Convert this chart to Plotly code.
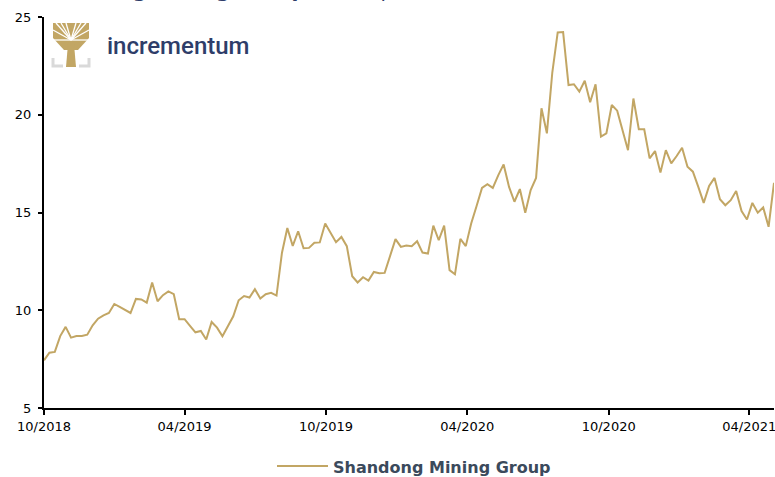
import pandas as pd
import plotly.graph_objects as go

# ---------------- data ----------------
start_date = "2018-10-01"
series_name = "Shandong Mining Group"
prices = [
    7.44, 7.83, 7.87, 8.68, 9.15, 8.60, 8.68, 8.68, 8.75, 9.23,
    9.57, 9.74, 9.86, 10.32, 10.17, 10.00, 9.86, 10.58, 10.55, 10.39,
    11.42, 10.46, 10.77, 10.96, 10.82, 9.54, 9.54, 9.20, 8.87, 8.94,
    8.50, 9.40, 9.11, 8.67, 9.18, 9.69, 10.51, 10.73, 10.65, 11.08,
    10.60, 10.82, 10.89, 10.75, 12.93, 14.21, 13.29, 14.04, 13.17, 13.19,
    13.45, 13.47, 14.44, 13.98, 13.48, 13.75, 13.28, 11.74, 11.42, 11.69,
    11.52, 11.96, 11.89, 11.91, 12.82, 13.64, 13.24, 13.31, 13.28, 13.53,
    12.95, 12.90, 14.33, 13.58, 14.33, 12.05, 11.84, 13.65, 13.28, 14.44,
    15.33, 16.26, 16.45, 16.26, 16.90, 17.46, 16.31, 15.55, 16.20, 14.99,
    16.15, 16.77, 20.33, 19.05, 22.16, 24.21, 24.23, 21.52, 21.56, 21.18,
    21.74, 20.64, 21.56, 18.88, 19.05, 20.50, 20.21, 19.17, 18.19, 20.83,
    19.26, 19.26, 17.77, 18.14, 17.04, 18.19, 17.51, 17.89, 18.31, 17.34,
    17.09, 16.31, 15.49, 16.36, 16.77, 15.68, 15.37, 15.63, 16.10, 15.07,
    14.64, 15.49, 14.99, 15.26, 14.27, 16.52,
]
dates = pd.date_range(start_date, periods=len(prices), freq="7D")

x_tick_vals = ["2018-10-01", "2019-04-01", "2019-10-01", "2020-04-01", "2020-10-01", "2021-04-01"]
x_tick_text = ["10/2018", "04/2019", "10/2019", "04/2020", "10/2020", "04/2021"]
y_tick_vals = [5, 10, 15, 20, 25]

# ---------------- style ----------------
GOLD = "#C2A664"
NAVY = "#2E3D69"
SLATE = "#3B4A5C"
GREY = "#D9D9D9"
W, H = 775, 477
ML, MR, MT, MB = 44, 1, 17, 69
PW, PH = W - ML - MR, H - MT - MB


def px(x):
    return (x - ML) / PW


def py(y):
    return (H - MB - y) / PH


fig = go.Figure()
fig.add_trace(go.Scatter(
    x=dates, y=prices, mode="lines", name=series_name,
    line=dict(color=GOLD, width=2), showlegend=False, cliponaxis=False,
))

shapes = []
# logo: tree crown (block) with white gaps suggesting branches
crown = [(53, 23), (89, 23), (89, 38), (78, 50), (64, 50), (53, 38)]
path = "M " + " L ".join(f"{px(a):.5f},{py(b):.5f}" for a, b in crown) + " Z"
shapes.append(dict(type="path", xref="paper", yref="paper", path=path,
                   fillcolor=GOLD, line=dict(width=0)))
gap_base = (71, 40)
gap_tips = [(56, 23), (61, 23), (66, 23), (76, 23), (81, 23), (86, 23), (53, 30), (89, 30), (53, 40), (89, 40)]
for tx, ty in gap_tips:
    shapes.append(dict(type="line", xref="paper", yref="paper",
                       x0=px(gap_base[0]), y0=py(gap_base[1]), x1=px(tx), y1=py(ty),
                       line=dict(color="white", width=1.3)))
# trunk
trunk = [(66, 67), (76, 67), (74, 44), (68, 44)]
path = "M " + " L ".join(f"{px(a):.5f},{py(b):.5f}" for a, b in trunk) + " Z"
shapes.append(dict(type="path", xref="paper", yref="paper", path=path,
                   fillcolor=GOLD, line=dict(width=0)))
# grey corner brackets
for pts in ([(53, 58), (53, 66), (63, 66)], [(89, 58), (89, 66), (79, 66)]):
    p = "M " + " L ".join(f"{px(a):.5f},{py(b):.5f}" for a, b in pts)
    shapes.append(dict(type="path", xref="paper", yref="paper", path=p,
                       line=dict(color=GREY, width=3)))
# manual legend line
shapes.append(dict(type="line", xref="paper", yref="paper",
                   x0=px(277), x1=px(328), y0=py(466), y1=py(466),
                   line=dict(color=GOLD, width=2)))

annotations = [
    dict(text="incrementum", xref="paper", yref="paper", x=px(105), y=py(46),
         xanchor="left", yanchor="middle", showarrow=False,
         font=dict(family="Roboto", size=24, color=NAVY, weight=500)),
    dict(text=f"<b>{series_name}</b>", xref="paper", yref="paper", x=px(331), y=py(467),
         xanchor="left", yanchor="middle", showarrow=False,
         font=dict(family="DejaVu Sans", size=16, color=SLATE)),
    dict(text="<b>Shandong Mining Group</b>, share price (in HKD)", xref="paper", yref="paper",
         x=px(32), y=py(4.5), xanchor="left", yanchor="bottom", showarrow=False,
         font=dict(family="DejaVu Sans", size=20, color=NAVY)),
]

fig.update_layout(
    width=W, height=H,
    margin=dict(l=ML, r=MR, t=MT, b=MB, pad=0, autoexpand=False),
    paper_bgcolor="white", plot_bgcolor="white",
    showlegend=False,
    shapes=shapes, annotations=annotations,
    font=dict(family="DejaVu Sans", size=13, color="black"),
    xaxis=dict(type="date", range=[dates[0], dates[-1]],
               tickvals=x_tick_vals, ticktext=x_tick_text,
               showgrid=False, zeroline=False, automargin=False,
               ticklabeloverflow="allow",
               showline=True, linecolor="black", linewidth=2,
               ticks="outside", ticklen=5, tickwidth=2, tickcolor="black",
               tickfont=dict(family="DejaVu Sans", size=13, color="black")),
    yaxis=dict(range=[5, 25], tickvals=y_tick_vals,
               showgrid=False, zeroline=False, automargin=False,
               ticklabelstandoff=4,
               showline=True, linecolor="black", linewidth=2,
               ticks="outside", ticklen=4, tickwidth=2, tickcolor="black",
               tickfont=dict(family="DejaVu Sans", size=13, color="black")),
)

fig.write_html("out.html", config={"displayModeBar": False},
               post_script="document.body.style.margin='0px';")
